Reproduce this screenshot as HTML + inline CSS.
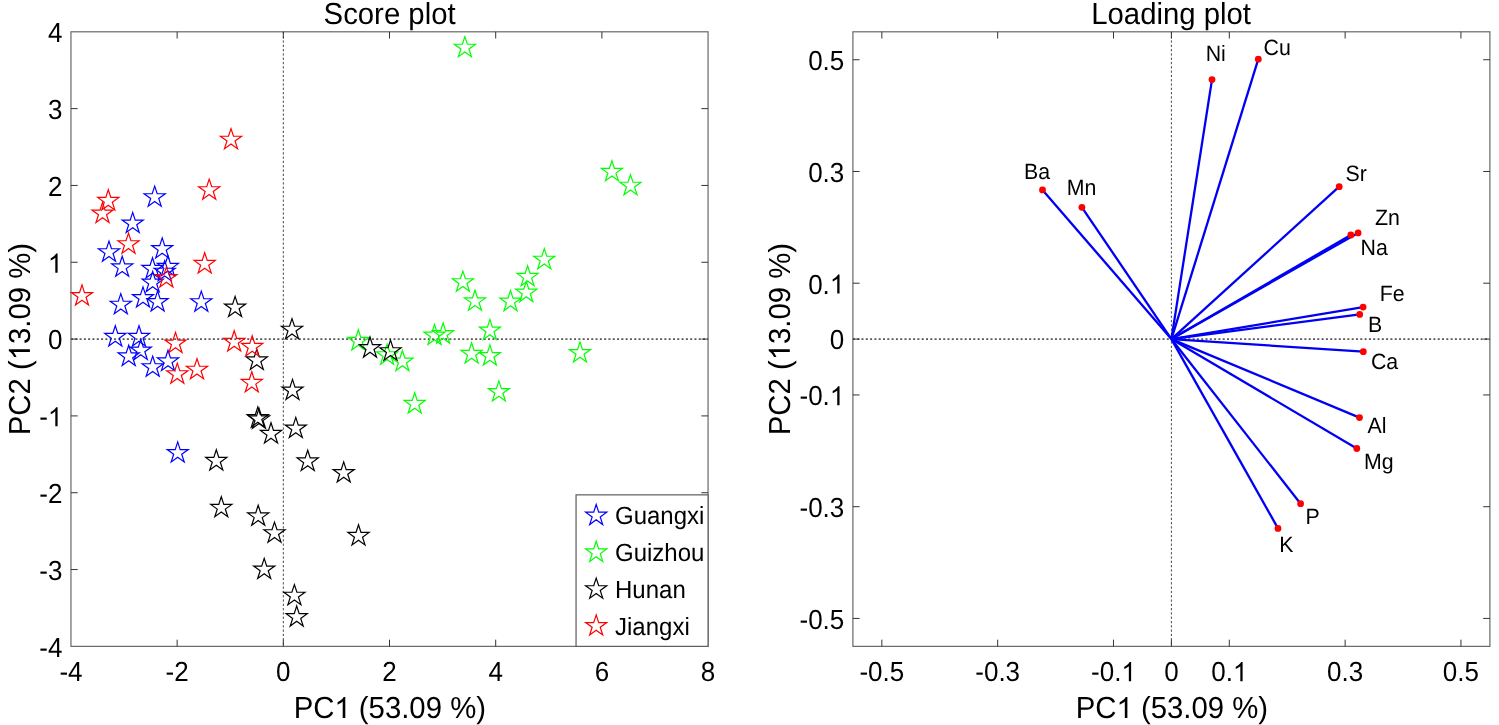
<!DOCTYPE html>
<html><head><meta charset="utf-8"><title>PCA score and loading plots</title>
<style>
html,body{margin:0;padding:0;background:#fff;}
svg{will-change:transform;}
text{font-kerning:none;text-rendering:geometricPrecision;}
body{width:1499px;height:725px;overflow:hidden;position:relative;font-family:"Liberation Sans",sans-serif;}
</style></head><body>
<svg width="1499" height="725" viewBox="0 0 1499 725" style="position:absolute;left:0;top:0">
<rect width="1499" height="725" fill="#fff"/>
<g font-family="Liberation Sans, sans-serif" fill="#000">
<line x1="70.96" y1="339.08" x2="708.06" y2="339.08" stroke="#585858" stroke-width="1.7" stroke-dasharray="2 2.3"/>
<line x1="283.33" y1="31.80" x2="283.33" y2="646.37" stroke="#4a4a4a" stroke-width="1.0" stroke-dasharray="2.3 2.0"/>
<rect x="70.96" y="31.80" width="637.10" height="614.57" fill="none" stroke="#686868" stroke-width="1.2"/>
<path d="M177.14 646.37v-6.70M177.14 31.80v6.70M283.33 646.37v-6.70M283.33 31.80v6.70M389.51 646.37v-6.70M389.51 31.80v6.70M495.69 646.37v-6.70M495.69 31.80v6.70M601.88 646.37v-6.70M601.88 31.80v6.70M70.96 569.55h6.70M708.06 569.55h-6.70M70.96 492.73h6.70M708.06 492.73h-6.70M70.96 415.91h6.70M708.06 415.91h-6.70M70.96 339.08h6.70M708.06 339.08h-6.70M70.96 262.26h6.70M708.06 262.26h-6.70M70.96 185.44h6.70M708.06 185.44h-6.70M70.96 108.62h6.70M708.06 108.62h-6.70" stroke="#343434" stroke-width="1.0" fill="none"/>
<text transform="translate(70.96 681.20) scale(1 1.064)" font-size="26.0" text-anchor="middle">-4</text>
<text transform="translate(177.14 681.20) scale(1 1.064)" font-size="26.0" text-anchor="middle">-2</text>
<text transform="translate(283.33 681.20) scale(1 1.064)" font-size="26.0" text-anchor="middle">0</text>
<text transform="translate(389.51 681.20) scale(1 1.064)" font-size="26.0" text-anchor="middle">2</text>
<text transform="translate(495.69 681.20) scale(1 1.064)" font-size="26.0" text-anchor="middle">4</text>
<text transform="translate(601.88 681.20) scale(1 1.064)" font-size="26.0" text-anchor="middle">6</text>
<text transform="translate(708.06 681.20) scale(1 1.064)" font-size="26.0" text-anchor="middle">8</text>
<text transform="translate(62.36 656.77) scale(1 1.064)" font-size="26.0" text-anchor="end">-4</text>
<text transform="translate(62.36 579.95) scale(1 1.064)" font-size="26.0" text-anchor="end">-3</text>
<text transform="translate(62.36 503.13) scale(1 1.064)" font-size="26.0" text-anchor="end">-2</text>
<g transform="translate(62.36 426.31)"><text transform="translate(-23.12 0) scale(1 1.064)" font-size="26.0" xml:space="preserve">-</text><path transform="translate(-14.46 0) scale(0.01270 -0.01303)" d="M763 0H583V1147Q518 1085 412.5 1023T223 930V1104Q374 1175 487 1276T647 1472H763Z"/></g>
<text transform="translate(62.36 349.48) scale(1 1.064)" font-size="26.0" text-anchor="end">0</text>
<g transform="translate(62.36 272.66)"><path transform="translate(-14.46 0) scale(0.01270 -0.01303)" d="M763 0H583V1147Q518 1085 412.5 1023T223 930V1104Q374 1175 487 1276T647 1472H763Z"/></g>
<text transform="translate(62.36 195.84) scale(1 1.064)" font-size="26.0" text-anchor="end">2</text>
<text transform="translate(62.36 119.02) scale(1 1.064)" font-size="26.0" text-anchor="end">3</text>
<text transform="translate(62.36 42.20) scale(1 1.064)" font-size="26.0" text-anchor="end">4</text>
<polygon points="154.70,186.10 157.19,193.77 165.26,193.77 158.73,198.51 161.22,206.18 154.70,201.44 148.18,206.18 150.67,198.51 144.14,193.77 152.21,193.77" fill="none" stroke="#0000ff" stroke-width="1.2" stroke-linejoin="miter" stroke-miterlimit="4"/>
<polygon points="132.70,212.40 135.19,220.07 143.26,220.07 136.73,224.81 139.22,232.48 132.70,227.74 126.18,232.48 128.67,224.81 122.14,220.07 130.21,220.07" fill="none" stroke="#0000ff" stroke-width="1.2" stroke-linejoin="miter" stroke-miterlimit="4"/>
<polygon points="109.00,241.10 111.49,248.77 119.56,248.77 113.03,253.51 115.52,261.18 109.00,256.44 102.48,261.18 104.97,253.51 98.44,248.77 106.51,248.77" fill="none" stroke="#0000ff" stroke-width="1.2" stroke-linejoin="miter" stroke-miterlimit="4"/>
<polygon points="162.20,237.90 164.69,245.57 172.76,245.57 166.23,250.31 168.72,257.98 162.20,253.24 155.68,257.98 158.17,250.31 151.64,245.57 159.71,245.57" fill="none" stroke="#0000ff" stroke-width="1.2" stroke-linejoin="miter" stroke-miterlimit="4"/>
<polygon points="122.20,256.20 124.69,263.87 132.76,263.87 126.23,268.61 128.72,276.28 122.20,271.54 115.68,276.28 118.17,268.61 111.64,263.87 119.71,263.87" fill="none" stroke="#0000ff" stroke-width="1.2" stroke-linejoin="miter" stroke-miterlimit="4"/>
<polygon points="152.50,257.80 154.99,265.47 163.06,265.47 156.53,270.21 159.02,277.88 152.50,273.14 145.98,277.88 148.47,270.21 141.94,265.47 150.01,265.47" fill="none" stroke="#0000ff" stroke-width="1.2" stroke-linejoin="miter" stroke-miterlimit="4"/>
<polygon points="167.90,255.70 170.39,263.37 178.46,263.37 171.93,268.11 174.42,275.78 167.90,271.04 161.38,275.78 163.87,268.11 157.34,263.37 165.41,263.37" fill="none" stroke="#0000ff" stroke-width="1.2" stroke-linejoin="miter" stroke-miterlimit="4"/>
<polygon points="164.70,260.60 167.19,268.27 175.26,268.27 168.73,273.01 171.22,280.68 164.70,275.94 158.18,280.68 160.67,273.01 154.14,268.27 162.21,268.27" fill="none" stroke="#0000ff" stroke-width="1.2" stroke-linejoin="miter" stroke-miterlimit="4"/>
<polygon points="152.70,271.50 155.19,279.17 163.26,279.17 156.73,283.91 159.22,291.58 152.70,286.84 146.18,291.58 148.67,283.91 142.14,279.17 150.21,279.17" fill="none" stroke="#0000ff" stroke-width="1.2" stroke-linejoin="miter" stroke-miterlimit="4"/>
<polygon points="120.80,293.60 123.29,301.27 131.36,301.27 124.83,306.01 127.32,313.68 120.80,308.94 114.28,313.68 116.77,306.01 110.24,301.27 118.31,301.27" fill="none" stroke="#0000ff" stroke-width="1.2" stroke-linejoin="miter" stroke-miterlimit="4"/>
<polygon points="143.00,286.90 145.49,294.57 153.56,294.57 147.03,299.31 149.52,306.98 143.00,302.24 136.48,306.98 138.97,299.31 132.44,294.57 140.51,294.57" fill="none" stroke="#0000ff" stroke-width="1.2" stroke-linejoin="miter" stroke-miterlimit="4"/>
<polygon points="157.60,290.90 160.09,298.57 168.16,298.57 161.63,303.31 164.12,310.98 157.60,306.24 151.08,310.98 153.57,303.31 147.04,298.57 155.11,298.57" fill="none" stroke="#0000ff" stroke-width="1.2" stroke-linejoin="miter" stroke-miterlimit="4"/>
<polygon points="201.30,291.10 203.79,298.77 211.86,298.77 205.33,303.51 207.82,311.18 201.30,306.44 194.78,311.18 197.27,303.51 190.74,298.77 198.81,298.77" fill="none" stroke="#0000ff" stroke-width="1.2" stroke-linejoin="miter" stroke-miterlimit="4"/>
<polygon points="115.30,325.80 117.79,333.47 125.86,333.47 119.33,338.21 121.82,345.88 115.30,341.14 108.78,345.88 111.27,338.21 104.74,333.47 112.81,333.47" fill="none" stroke="#0000ff" stroke-width="1.2" stroke-linejoin="miter" stroke-miterlimit="4"/>
<polygon points="139.00,325.80 141.49,333.47 149.56,333.47 143.03,338.21 145.52,345.88 139.00,341.14 132.48,345.88 134.97,338.21 128.44,333.47 136.51,333.47" fill="none" stroke="#0000ff" stroke-width="1.2" stroke-linejoin="miter" stroke-miterlimit="4"/>
<polygon points="140.80,339.40 143.29,347.07 151.36,347.07 144.83,351.81 147.32,359.48 140.80,354.74 134.28,359.48 136.77,351.81 130.24,347.07 138.31,347.07" fill="none" stroke="#0000ff" stroke-width="1.2" stroke-linejoin="miter" stroke-miterlimit="4"/>
<polygon points="128.70,345.30 131.19,352.97 139.26,352.97 132.73,357.71 135.22,365.38 128.70,360.64 122.18,365.38 124.67,357.71 118.14,352.97 126.21,352.97" fill="none" stroke="#0000ff" stroke-width="1.2" stroke-linejoin="miter" stroke-miterlimit="4"/>
<polygon points="168.00,350.30 170.49,357.97 178.56,357.97 172.03,362.71 174.52,370.38 168.00,365.64 161.48,370.38 163.97,362.71 157.44,357.97 165.51,357.97" fill="none" stroke="#0000ff" stroke-width="1.2" stroke-linejoin="miter" stroke-miterlimit="4"/>
<polygon points="152.70,356.10 155.19,363.77 163.26,363.77 156.73,368.51 159.22,376.18 152.70,371.44 146.18,376.18 148.67,368.51 142.14,363.77 150.21,363.77" fill="none" stroke="#0000ff" stroke-width="1.2" stroke-linejoin="miter" stroke-miterlimit="4"/>
<polygon points="177.70,441.90 180.19,449.57 188.26,449.57 181.73,454.31 184.22,461.98 177.70,457.24 171.18,461.98 173.67,454.31 167.14,449.57 175.21,449.57" fill="none" stroke="#0000ff" stroke-width="1.2" stroke-linejoin="miter" stroke-miterlimit="4"/>
<polygon points="464.90,36.60 467.39,44.27 475.46,44.27 468.93,49.01 471.42,56.68 464.90,51.94 458.38,56.68 460.87,49.01 454.34,44.27 462.41,44.27" fill="none" stroke="#00ff00" stroke-width="1.2" stroke-linejoin="miter" stroke-miterlimit="4"/>
<polygon points="611.90,160.70 614.39,168.37 622.46,168.37 615.93,173.11 618.42,180.78 611.90,176.04 605.38,180.78 607.87,173.11 601.34,168.37 609.41,168.37" fill="none" stroke="#00ff00" stroke-width="1.2" stroke-linejoin="miter" stroke-miterlimit="4"/>
<polygon points="630.50,174.60 632.99,182.27 641.06,182.27 634.53,187.01 637.02,194.68 630.50,189.94 623.98,194.68 626.47,187.01 619.94,182.27 628.01,182.27" fill="none" stroke="#00ff00" stroke-width="1.2" stroke-linejoin="miter" stroke-miterlimit="4"/>
<polygon points="544.30,248.60 546.79,256.27 554.86,256.27 548.33,261.01 550.82,268.68 544.30,263.94 537.78,268.68 540.27,261.01 533.74,256.27 541.81,256.27" fill="none" stroke="#00ff00" stroke-width="1.2" stroke-linejoin="miter" stroke-miterlimit="4"/>
<polygon points="527.60,265.70 530.09,273.37 538.16,273.37 531.63,278.11 534.12,285.78 527.60,281.04 521.08,285.78 523.57,278.11 517.04,273.37 525.11,273.37" fill="none" stroke="#00ff00" stroke-width="1.2" stroke-linejoin="miter" stroke-miterlimit="4"/>
<polygon points="526.30,281.50 528.79,289.17 536.86,289.17 530.33,293.91 532.82,301.58 526.30,296.84 519.78,301.58 522.27,293.91 515.74,289.17 523.81,289.17" fill="none" stroke="#00ff00" stroke-width="1.2" stroke-linejoin="miter" stroke-miterlimit="4"/>
<polygon points="510.50,290.50 512.99,298.17 521.06,298.17 514.53,302.91 517.02,310.58 510.50,305.84 503.98,310.58 506.47,302.91 499.94,298.17 508.01,298.17" fill="none" stroke="#00ff00" stroke-width="1.2" stroke-linejoin="miter" stroke-miterlimit="4"/>
<polygon points="462.90,271.10 465.39,278.77 473.46,278.77 466.93,283.51 469.42,291.18 462.90,286.44 456.38,291.18 458.87,283.51 452.34,278.77 460.41,278.77" fill="none" stroke="#00ff00" stroke-width="1.2" stroke-linejoin="miter" stroke-miterlimit="4"/>
<polygon points="475.00,290.20 477.49,297.87 485.56,297.87 479.03,302.61 481.52,310.28 475.00,305.54 468.48,310.28 470.97,302.61 464.44,297.87 472.51,297.87" fill="none" stroke="#00ff00" stroke-width="1.2" stroke-linejoin="miter" stroke-miterlimit="4"/>
<polygon points="489.90,319.40 492.39,327.07 500.46,327.07 493.93,331.81 496.42,339.48 489.90,334.74 483.38,339.48 485.87,331.81 479.34,327.07 487.41,327.07" fill="none" stroke="#00ff00" stroke-width="1.2" stroke-linejoin="miter" stroke-miterlimit="4"/>
<polygon points="434.50,324.40 436.99,332.07 445.06,332.07 438.53,336.81 441.02,344.48 434.50,339.74 427.98,344.48 430.47,336.81 423.94,332.07 432.01,332.07" fill="none" stroke="#00ff00" stroke-width="1.2" stroke-linejoin="miter" stroke-miterlimit="4"/>
<polygon points="443.10,323.00 445.59,330.67 453.66,330.67 447.13,335.41 449.62,343.08 443.10,338.34 436.58,343.08 439.07,335.41 432.54,330.67 440.61,330.67" fill="none" stroke="#00ff00" stroke-width="1.2" stroke-linejoin="miter" stroke-miterlimit="4"/>
<polygon points="358.30,329.80 360.79,337.47 368.86,337.47 362.33,342.21 364.82,349.88 358.30,345.14 351.78,349.88 354.27,342.21 347.74,337.47 355.81,337.47" fill="none" stroke="#00ff00" stroke-width="1.2" stroke-linejoin="miter" stroke-miterlimit="4"/>
<polygon points="471.60,342.80 474.09,350.47 482.16,350.47 475.63,355.21 478.12,362.88 471.60,358.14 465.08,362.88 467.57,355.21 461.04,350.47 469.11,350.47" fill="none" stroke="#00ff00" stroke-width="1.2" stroke-linejoin="miter" stroke-miterlimit="4"/>
<polygon points="489.90,344.90 492.39,352.57 500.46,352.57 493.93,357.31 496.42,364.98 489.90,360.24 483.38,364.98 485.87,357.31 479.34,352.57 487.41,352.57" fill="none" stroke="#00ff00" stroke-width="1.2" stroke-linejoin="miter" stroke-miterlimit="4"/>
<polygon points="580.00,341.90 582.49,349.57 590.56,349.57 584.03,354.31 586.52,361.98 580.00,357.24 573.48,361.98 575.97,354.31 569.44,349.57 577.51,349.57" fill="none" stroke="#00ff00" stroke-width="1.2" stroke-linejoin="miter" stroke-miterlimit="4"/>
<polygon points="387.10,344.10 389.59,351.77 397.66,351.77 391.13,356.51 393.62,364.18 387.10,359.44 380.58,364.18 383.07,356.51 376.54,351.77 384.61,351.77" fill="none" stroke="#00ff00" stroke-width="1.2" stroke-linejoin="miter" stroke-miterlimit="4"/>
<polygon points="402.40,350.50 404.89,358.17 412.96,358.17 406.43,362.91 408.92,370.58 402.40,365.84 395.88,370.58 398.37,362.91 391.84,358.17 399.91,358.17" fill="none" stroke="#00ff00" stroke-width="1.2" stroke-linejoin="miter" stroke-miterlimit="4"/>
<polygon points="414.70,392.80 417.19,400.47 425.26,400.47 418.73,405.21 421.22,412.88 414.70,408.14 408.18,412.88 410.67,405.21 404.14,400.47 412.21,400.47" fill="none" stroke="#00ff00" stroke-width="1.2" stroke-linejoin="miter" stroke-miterlimit="4"/>
<polygon points="498.90,380.90 501.39,388.57 509.46,388.57 502.93,393.31 505.42,400.98 498.90,396.24 492.38,400.98 494.87,393.31 488.34,388.57 496.41,388.57" fill="none" stroke="#00ff00" stroke-width="1.2" stroke-linejoin="miter" stroke-miterlimit="4"/>
<polygon points="235.10,296.40 237.59,304.07 245.66,304.07 239.13,308.81 241.62,316.48 235.10,311.74 228.58,316.48 231.07,308.81 224.54,304.07 232.61,304.07" fill="none" stroke="#000000" stroke-width="1.2" stroke-linejoin="miter" stroke-miterlimit="4"/>
<polygon points="292.00,318.60 294.49,326.27 302.56,326.27 296.03,331.01 298.52,338.68 292.00,333.94 285.48,338.68 287.97,331.01 281.44,326.27 289.51,326.27" fill="none" stroke="#000000" stroke-width="1.2" stroke-linejoin="miter" stroke-miterlimit="4"/>
<polygon points="256.80,349.30 259.29,356.97 267.36,356.97 260.83,361.71 263.32,369.38 256.80,364.64 250.28,369.38 252.77,361.71 246.24,356.97 254.31,356.97" fill="none" stroke="#000000" stroke-width="1.2" stroke-linejoin="miter" stroke-miterlimit="4"/>
<polygon points="292.50,379.40 294.99,387.07 303.06,387.07 296.53,391.81 299.02,399.48 292.50,394.74 285.98,399.48 288.47,391.81 281.94,387.07 290.01,387.07" fill="none" stroke="#000000" stroke-width="1.2" stroke-linejoin="miter" stroke-miterlimit="4"/>
<polygon points="257.80,407.00 260.29,414.67 268.36,414.67 261.83,419.41 264.32,427.08 257.80,422.34 251.28,427.08 253.77,419.41 247.24,414.67 255.31,414.67" fill="none" stroke="#000000" stroke-width="1.2" stroke-linejoin="miter" stroke-miterlimit="4"/>
<polygon points="259.00,408.20 261.49,415.87 269.56,415.87 263.03,420.61 265.52,428.28 259.00,423.54 252.48,428.28 254.97,420.61 248.44,415.87 256.51,415.87" fill="none" stroke="#000000" stroke-width="1.2" stroke-linejoin="miter" stroke-miterlimit="4"/>
<polygon points="271.00,422.80 273.49,430.47 281.56,430.47 275.03,435.21 277.52,442.88 271.00,438.14 264.48,442.88 266.97,435.21 260.44,430.47 268.51,430.47" fill="none" stroke="#000000" stroke-width="1.2" stroke-linejoin="miter" stroke-miterlimit="4"/>
<polygon points="295.80,417.40 298.29,425.07 306.36,425.07 299.83,429.81 302.32,437.48 295.80,432.74 289.28,437.48 291.77,429.81 285.24,425.07 293.31,425.07" fill="none" stroke="#000000" stroke-width="1.2" stroke-linejoin="miter" stroke-miterlimit="4"/>
<polygon points="216.30,449.80 218.79,457.47 226.86,457.47 220.33,462.21 222.82,469.88 216.30,465.14 209.78,469.88 212.27,462.21 205.74,457.47 213.81,457.47" fill="none" stroke="#000000" stroke-width="1.2" stroke-linejoin="miter" stroke-miterlimit="4"/>
<polygon points="307.70,450.30 310.19,457.97 318.26,457.97 311.73,462.71 314.22,470.38 307.70,465.64 301.18,470.38 303.67,462.71 297.14,457.97 305.21,457.97" fill="none" stroke="#000000" stroke-width="1.2" stroke-linejoin="miter" stroke-miterlimit="4"/>
<polygon points="343.70,461.90 346.19,469.57 354.26,469.57 347.73,474.31 350.22,481.98 343.70,477.24 337.18,481.98 339.67,474.31 333.14,469.57 341.21,469.57" fill="none" stroke="#000000" stroke-width="1.2" stroke-linejoin="miter" stroke-miterlimit="4"/>
<polygon points="221.30,496.70 223.79,504.37 231.86,504.37 225.33,509.11 227.82,516.78 221.30,512.04 214.78,516.78 217.27,509.11 210.74,504.37 218.81,504.37" fill="none" stroke="#000000" stroke-width="1.2" stroke-linejoin="miter" stroke-miterlimit="4"/>
<polygon points="258.20,505.20 260.69,512.87 268.76,512.87 262.23,517.61 264.72,525.28 258.20,520.54 251.68,525.28 254.17,517.61 247.64,512.87 255.71,512.87" fill="none" stroke="#000000" stroke-width="1.2" stroke-linejoin="miter" stroke-miterlimit="4"/>
<polygon points="274.50,522.10 276.99,529.77 285.06,529.77 278.53,534.51 281.02,542.18 274.50,537.44 267.98,542.18 270.47,534.51 263.94,529.77 272.01,529.77" fill="none" stroke="#000000" stroke-width="1.2" stroke-linejoin="miter" stroke-miterlimit="4"/>
<polygon points="358.50,524.80 360.99,532.47 369.06,532.47 362.53,537.21 365.02,544.88 358.50,540.14 351.98,544.88 354.47,537.21 347.94,532.47 356.01,532.47" fill="none" stroke="#000000" stroke-width="1.2" stroke-linejoin="miter" stroke-miterlimit="4"/>
<polygon points="264.20,558.40 266.69,566.07 274.76,566.07 268.23,570.81 270.72,578.48 264.20,573.74 257.68,578.48 260.17,570.81 253.64,566.07 261.71,566.07" fill="none" stroke="#000000" stroke-width="1.2" stroke-linejoin="miter" stroke-miterlimit="4"/>
<polygon points="294.40,584.60 296.89,592.27 304.96,592.27 298.43,597.01 300.92,604.68 294.40,599.94 287.88,604.68 290.37,597.01 283.84,592.27 291.91,592.27" fill="none" stroke="#000000" stroke-width="1.2" stroke-linejoin="miter" stroke-miterlimit="4"/>
<polygon points="296.70,606.00 299.19,613.67 307.26,613.67 300.73,618.41 303.22,626.08 296.70,621.34 290.18,626.08 292.67,618.41 286.14,613.67 294.21,613.67" fill="none" stroke="#000000" stroke-width="1.2" stroke-linejoin="miter" stroke-miterlimit="4"/>
<polygon points="370.00,337.00 372.49,344.67 380.56,344.67 374.03,349.41 376.52,357.08 370.00,352.34 363.48,357.08 365.97,349.41 359.44,344.67 367.51,344.67" fill="none" stroke="#000000" stroke-width="1.2" stroke-linejoin="miter" stroke-miterlimit="4"/>
<polygon points="390.50,340.10 392.99,347.77 401.06,347.77 394.53,352.51 397.02,360.18 390.50,355.44 383.98,360.18 386.47,352.51 379.94,347.77 388.01,347.77" fill="none" stroke="#000000" stroke-width="1.2" stroke-linejoin="miter" stroke-miterlimit="4"/>
<polygon points="231.00,128.60 233.49,136.27 241.56,136.27 235.03,141.01 237.52,148.68 231.00,143.94 224.48,148.68 226.97,141.01 220.44,136.27 228.51,136.27" fill="none" stroke="#ff0000" stroke-width="1.2" stroke-linejoin="miter" stroke-miterlimit="4"/>
<polygon points="209.20,179.10 211.69,186.77 219.76,186.77 213.23,191.51 215.72,199.18 209.20,194.44 202.68,199.18 205.17,191.51 198.64,186.77 206.71,186.77" fill="none" stroke="#ff0000" stroke-width="1.2" stroke-linejoin="miter" stroke-miterlimit="4"/>
<polygon points="108.30,189.80 110.79,197.47 118.86,197.47 112.33,202.21 114.82,209.88 108.30,205.14 101.78,209.88 104.27,202.21 97.74,197.47 105.81,197.47" fill="none" stroke="#ff0000" stroke-width="1.2" stroke-linejoin="miter" stroke-miterlimit="4"/>
<polygon points="102.50,202.40 104.99,210.07 113.06,210.07 106.53,214.81 109.02,222.48 102.50,217.74 95.98,222.48 98.47,214.81 91.94,210.07 100.01,210.07" fill="none" stroke="#ff0000" stroke-width="1.2" stroke-linejoin="miter" stroke-miterlimit="4"/>
<polygon points="128.50,233.10 130.99,240.77 139.06,240.77 132.53,245.51 135.02,253.18 128.50,248.44 121.98,253.18 124.47,245.51 117.94,240.77 126.01,240.77" fill="none" stroke="#ff0000" stroke-width="1.2" stroke-linejoin="miter" stroke-miterlimit="4"/>
<polygon points="204.70,252.80 207.19,260.47 215.26,260.47 208.73,265.21 211.22,272.88 204.70,268.14 198.18,272.88 200.67,265.21 194.14,260.47 202.21,260.47" fill="none" stroke="#ff0000" stroke-width="1.2" stroke-linejoin="miter" stroke-miterlimit="4"/>
<polygon points="166.40,266.90 168.89,274.57 176.96,274.57 170.43,279.31 172.92,286.98 166.40,282.24 159.88,286.98 162.37,279.31 155.84,274.57 163.91,274.57" fill="none" stroke="#ff0000" stroke-width="1.2" stroke-linejoin="miter" stroke-miterlimit="4"/>
<polygon points="82.00,284.90 84.49,292.57 92.56,292.57 86.03,297.31 88.52,304.98 82.00,300.24 75.48,304.98 77.97,297.31 71.44,292.57 79.51,292.57" fill="none" stroke="#ff0000" stroke-width="1.2" stroke-linejoin="miter" stroke-miterlimit="4"/>
<polygon points="175.50,332.40 177.99,340.07 186.06,340.07 179.53,344.81 182.02,352.48 175.50,347.74 168.98,352.48 171.47,344.81 164.94,340.07 173.01,340.07" fill="none" stroke="#ff0000" stroke-width="1.2" stroke-linejoin="miter" stroke-miterlimit="4"/>
<polygon points="177.30,363.10 179.79,370.77 187.86,370.77 181.33,375.51 183.82,383.18 177.30,378.44 170.78,383.18 173.27,375.51 166.74,370.77 174.81,370.77" fill="none" stroke="#ff0000" stroke-width="1.2" stroke-linejoin="miter" stroke-miterlimit="4"/>
<polygon points="197.00,358.60 199.49,366.27 207.56,366.27 201.03,371.01 203.52,378.68 197.00,373.94 190.48,378.68 192.97,371.01 186.44,366.27 194.51,366.27" fill="none" stroke="#ff0000" stroke-width="1.2" stroke-linejoin="miter" stroke-miterlimit="4"/>
<polygon points="234.20,330.80 236.69,338.47 244.76,338.47 238.23,343.21 240.72,350.88 234.20,346.14 227.68,350.88 230.17,343.21 223.64,338.47 231.71,338.47" fill="none" stroke="#ff0000" stroke-width="1.2" stroke-linejoin="miter" stroke-miterlimit="4"/>
<polygon points="252.20,335.80 254.69,343.47 262.76,343.47 256.23,348.21 258.72,355.88 252.20,351.14 245.68,355.88 248.17,348.21 241.64,343.47 249.71,343.47" fill="none" stroke="#ff0000" stroke-width="1.2" stroke-linejoin="miter" stroke-miterlimit="4"/>
<polygon points="251.80,371.70 254.29,379.37 262.36,379.37 255.83,384.11 258.32,391.78 251.80,387.04 245.28,391.78 247.77,384.11 241.24,379.37 249.31,379.37" fill="none" stroke="#ff0000" stroke-width="1.2" stroke-linejoin="miter" stroke-miterlimit="4"/>
<rect x="576.05" y="494.85" width="132.01" height="151.52" fill="#fff" stroke="#5c5c5c" stroke-width="1.2"/>
<polygon points="596.20,504.50 598.69,512.17 606.76,512.17 600.23,516.91 602.72,524.58 596.20,519.84 589.68,524.58 592.17,516.91 585.64,512.17 593.71,512.17" fill="none" stroke="#0000ff" stroke-width="1.2" stroke-linejoin="miter" stroke-miterlimit="4"/>
<text transform="translate(615.00 523.90) scale(1 1.037)" font-size="24" text-anchor="start">Guangxi</text>
<polygon points="596.20,541.30 598.69,548.97 606.76,548.97 600.23,553.71 602.72,561.38 596.20,556.64 589.68,561.38 592.17,553.71 585.64,548.97 593.71,548.97" fill="none" stroke="#00ff00" stroke-width="1.2" stroke-linejoin="miter" stroke-miterlimit="4"/>
<text transform="translate(615.00 560.95) scale(1 1.037)" font-size="24" text-anchor="start">Guizhou</text>
<polygon points="596.20,578.10 598.69,585.77 606.76,585.77 600.23,590.51 602.72,598.18 596.20,593.44 589.68,598.18 592.17,590.51 585.64,585.77 593.71,585.77" fill="none" stroke="#000000" stroke-width="1.2" stroke-linejoin="miter" stroke-miterlimit="4"/>
<text transform="translate(615.00 598.00) scale(1 1.037)" font-size="24" text-anchor="start">Hunan</text>
<polygon points="596.20,614.90 598.69,622.57 606.76,622.57 600.23,627.31 602.72,634.98 596.20,630.24 589.68,634.98 592.17,627.31 585.64,622.57 593.71,622.57" fill="none" stroke="#ff0000" stroke-width="1.2" stroke-linejoin="miter" stroke-miterlimit="4"/>
<text transform="translate(615.00 635.05) scale(1 1.037)" font-size="24" text-anchor="start">Jiangxi</text>
<text transform="translate(389.61 23.80) scale(1 1.037)" font-size="29.33" text-anchor="middle">Score plot</text>
<g transform="translate(389.81 718.00)"><text transform="translate(-96.18 0) scale(1 1.037)" font-size="29.33" xml:space="preserve">PC</text><path transform="translate(-55.44 0) scale(0.01432 -0.01432)" d="M763 0H583V1147Q518 1085 412.5 1023T223 930V1104Q374 1175 487 1276T647 1472H763Z"/><text transform="translate(-39.13 0) scale(1 1.037)" font-size="29.33" xml:space="preserve"> (53.09 %)</text></g>
<g transform="translate(29.90 339.08) rotate(-90)"><text transform="translate(-96.18 0) scale(1 1.037)" font-size="29.33" xml:space="preserve">PC2 (</text><path transform="translate(-21.21 0) scale(0.01432 -0.01432)" d="M763 0H583V1147Q518 1085 412.5 1023T223 930V1104Q374 1175 487 1276T647 1472H763Z"/><text transform="translate(-4.90 0) scale(1 1.037)" font-size="29.33" xml:space="preserve">3.09 %)</text></g>
<line x1="852.90" y1="339.08" x2="1489.90" y2="339.08" stroke="#585858" stroke-width="1.7" stroke-dasharray="2 2.3"/>
<line x1="1171.40" y1="31.80" x2="1171.40" y2="646.37" stroke="#4a4a4a" stroke-width="1.0" stroke-dasharray="2.3 2.0"/>
<rect x="852.90" y="31.80" width="637.00" height="614.57" fill="none" stroke="#686868" stroke-width="1.2"/>
<path d="M881.85 646.37v-6.70M881.85 31.80v6.70M997.67 646.37v-6.70M997.67 31.80v6.70M1113.49 646.37v-6.70M1113.49 31.80v6.70M1171.40 646.37v-6.70M1171.40 31.80v6.70M1229.31 646.37v-6.70M1229.31 31.80v6.70M1345.13 646.37v-6.70M1345.13 31.80v6.70M1460.95 646.37v-6.70M1460.95 31.80v6.70M852.90 618.43h6.70M1489.90 618.43h-6.70M852.90 506.69h6.70M1489.90 506.69h-6.70M852.90 394.95h6.70M1489.90 394.95h-6.70M852.90 339.08h6.70M1489.90 339.08h-6.70M852.90 283.21h6.70M1489.90 283.21h-6.70M852.90 171.47h6.70M1489.90 171.47h-6.70M852.90 59.74h6.70M1489.90 59.74h-6.70" stroke="#343434" stroke-width="1.0" fill="none"/>
<text transform="translate(881.85 681.20) scale(1 1.064)" font-size="26.0" text-anchor="middle">-0.5</text>
<text transform="translate(997.67 681.20) scale(1 1.064)" font-size="26.0" text-anchor="middle">-0.3</text>
<g transform="translate(1113.49 681.20)"><text transform="translate(-22.40 0) scale(1 1.064)" font-size="26.0" xml:space="preserve">-0.</text><path transform="translate(7.94 0) scale(0.01270 -0.01303)" d="M763 0H583V1147Q518 1085 412.5 1023T223 930V1104Q374 1175 487 1276T647 1472H763Z"/></g>
<text transform="translate(1171.40 681.20) scale(1 1.064)" font-size="26.0" text-anchor="middle">0</text>
<g transform="translate(1229.31 681.20)"><text transform="translate(-18.07 0) scale(1 1.064)" font-size="26.0" xml:space="preserve">0.</text><path transform="translate(3.61 0) scale(0.01270 -0.01303)" d="M763 0H583V1147Q518 1085 412.5 1023T223 930V1104Q374 1175 487 1276T647 1472H763Z"/></g>
<text transform="translate(1345.13 681.20) scale(1 1.064)" font-size="26.0" text-anchor="middle">0.3</text>
<text transform="translate(1460.95 681.20) scale(1 1.064)" font-size="26.0" text-anchor="middle">0.5</text>
<text transform="translate(844.30 628.83) scale(1 1.064)" font-size="26.0" text-anchor="end">-0.5</text>
<text transform="translate(844.30 517.09) scale(1 1.064)" font-size="26.0" text-anchor="end">-0.3</text>
<g transform="translate(844.30 405.35)"><text transform="translate(-44.80 0) scale(1 1.064)" font-size="26.0" xml:space="preserve">-0.</text><path transform="translate(-14.46 0) scale(0.01270 -0.01303)" d="M763 0H583V1147Q518 1085 412.5 1023T223 930V1104Q374 1175 487 1276T647 1472H763Z"/></g>
<text transform="translate(844.30 349.48) scale(1 1.064)" font-size="26.0" text-anchor="end">0</text>
<g transform="translate(844.30 293.61)"><text transform="translate(-36.14 0) scale(1 1.064)" font-size="26.0" xml:space="preserve">0.</text><path transform="translate(-14.46 0) scale(0.01270 -0.01303)" d="M763 0H583V1147Q518 1085 412.5 1023T223 930V1104Q374 1175 487 1276T647 1472H763Z"/></g>
<text transform="translate(844.30 181.87) scale(1 1.064)" font-size="26.0" text-anchor="end">0.3</text>
<text transform="translate(844.30 70.14) scale(1 1.064)" font-size="26.0" text-anchor="end">0.5</text>
<line x1="1171.40" y1="339.08" x2="1042.50" y2="189.90" stroke="#0000f4" stroke-width="2.3"/>
<line x1="1171.40" y1="339.08" x2="1081.90" y2="207.30" stroke="#0000f4" stroke-width="2.3"/>
<line x1="1171.40" y1="339.08" x2="1212.00" y2="79.60" stroke="#0000f4" stroke-width="2.3"/>
<line x1="1171.40" y1="339.08" x2="1258.30" y2="59.20" stroke="#0000f4" stroke-width="2.3"/>
<line x1="1171.40" y1="339.08" x2="1339.20" y2="186.70" stroke="#0000f4" stroke-width="2.3"/>
<line x1="1171.40" y1="339.08" x2="1358.10" y2="232.90" stroke="#0000f4" stroke-width="2.3"/>
<line x1="1171.40" y1="339.08" x2="1350.80" y2="235.00" stroke="#0000f4" stroke-width="2.3"/>
<line x1="1171.40" y1="339.08" x2="1363.10" y2="307.10" stroke="#0000f4" stroke-width="2.3"/>
<line x1="1171.40" y1="339.08" x2="1359.70" y2="314.40" stroke="#0000f4" stroke-width="2.3"/>
<line x1="1171.40" y1="339.08" x2="1363.30" y2="351.70" stroke="#0000f4" stroke-width="2.3"/>
<line x1="1171.40" y1="339.08" x2="1359.50" y2="417.60" stroke="#0000f4" stroke-width="2.3"/>
<line x1="1171.40" y1="339.08" x2="1356.80" y2="448.50" stroke="#0000f4" stroke-width="2.3"/>
<line x1="1171.40" y1="339.08" x2="1300.60" y2="503.70" stroke="#0000f4" stroke-width="2.3"/>
<line x1="1171.40" y1="339.08" x2="1278.00" y2="528.40" stroke="#0000f4" stroke-width="2.3"/>
<circle cx="1042.50" cy="189.90" r="3.4" fill="#ff0000"/>
<text transform="translate(1024.00 178.90) scale(1 1.037)" font-size="21.33" text-anchor="start">Ba</text>
<circle cx="1081.90" cy="207.30" r="3.4" fill="#ff0000"/>
<text transform="translate(1066.80 195.40) scale(1 1.037)" font-size="21.33" text-anchor="start">Mn</text>
<circle cx="1212.00" cy="79.60" r="3.4" fill="#ff0000"/>
<text transform="translate(1205.70 61.20) scale(1 1.037)" font-size="21.33" text-anchor="start">Ni</text>
<circle cx="1258.30" cy="59.20" r="3.4" fill="#ff0000"/>
<text transform="translate(1263.60 54.80) scale(1 1.037)" font-size="21.33" text-anchor="start">Cu</text>
<circle cx="1339.20" cy="186.70" r="3.4" fill="#ff0000"/>
<text transform="translate(1345.60 180.50) scale(1 1.037)" font-size="21.33" text-anchor="start">Sr</text>
<circle cx="1358.10" cy="232.90" r="3.4" fill="#ff0000"/>
<text transform="translate(1375.00 224.90) scale(1 1.037)" font-size="21.33" text-anchor="start">Zn</text>
<circle cx="1350.80" cy="235.00" r="3.4" fill="#ff0000"/>
<text transform="translate(1360.50 255.40) scale(1 1.037)" font-size="21.33" text-anchor="start">Na</text>
<circle cx="1363.10" cy="307.10" r="3.4" fill="#ff0000"/>
<text transform="translate(1379.70 300.50) scale(1 1.037)" font-size="21.33" text-anchor="start">Fe</text>
<circle cx="1359.70" cy="314.40" r="3.4" fill="#ff0000"/>
<text transform="translate(1368.10 331.80) scale(1 1.037)" font-size="21.33" text-anchor="start">B</text>
<circle cx="1363.30" cy="351.70" r="3.4" fill="#ff0000"/>
<text transform="translate(1370.90 369.40) scale(1 1.037)" font-size="21.33" text-anchor="start">Ca</text>
<circle cx="1359.50" cy="417.60" r="3.4" fill="#ff0000"/>
<text transform="translate(1367.40 433.40) scale(1 1.037)" font-size="21.33" text-anchor="start">Al</text>
<circle cx="1356.80" cy="448.50" r="3.4" fill="#ff0000"/>
<text transform="translate(1363.90 469.20) scale(1 1.037)" font-size="21.33" text-anchor="start">Mg</text>
<circle cx="1300.60" cy="503.70" r="3.4" fill="#ff0000"/>
<text transform="translate(1305.40 523.90) scale(1 1.037)" font-size="21.33" text-anchor="start">P</text>
<circle cx="1278.00" cy="528.40" r="3.4" fill="#ff0000"/>
<text transform="translate(1279.30 552.30) scale(1 1.037)" font-size="21.33" text-anchor="start">K</text>
<text transform="translate(1171.10 23.80) scale(1 1.037)" font-size="29.33" text-anchor="middle">Loading plot</text>
<g transform="translate(1171.90 718.00)"><text transform="translate(-96.18 0) scale(1 1.037)" font-size="29.33" xml:space="preserve">PC</text><path transform="translate(-55.44 0) scale(0.01432 -0.01432)" d="M763 0H583V1147Q518 1085 412.5 1023T223 930V1104Q374 1175 487 1276T647 1472H763Z"/><text transform="translate(-39.13 0) scale(1 1.037)" font-size="29.33" xml:space="preserve"> (53.09 %)</text></g>
<g transform="translate(789.80 339.08) rotate(-90)"><text transform="translate(-96.18 0) scale(1 1.037)" font-size="29.33" xml:space="preserve">PC2 (</text><path transform="translate(-21.21 0) scale(0.01432 -0.01432)" d="M763 0H583V1147Q518 1085 412.5 1023T223 930V1104Q374 1175 487 1276T647 1472H763Z"/><text transform="translate(-4.90 0) scale(1 1.037)" font-size="29.33" xml:space="preserve">3.09 %)</text></g>
</g></svg>
</body></html>
